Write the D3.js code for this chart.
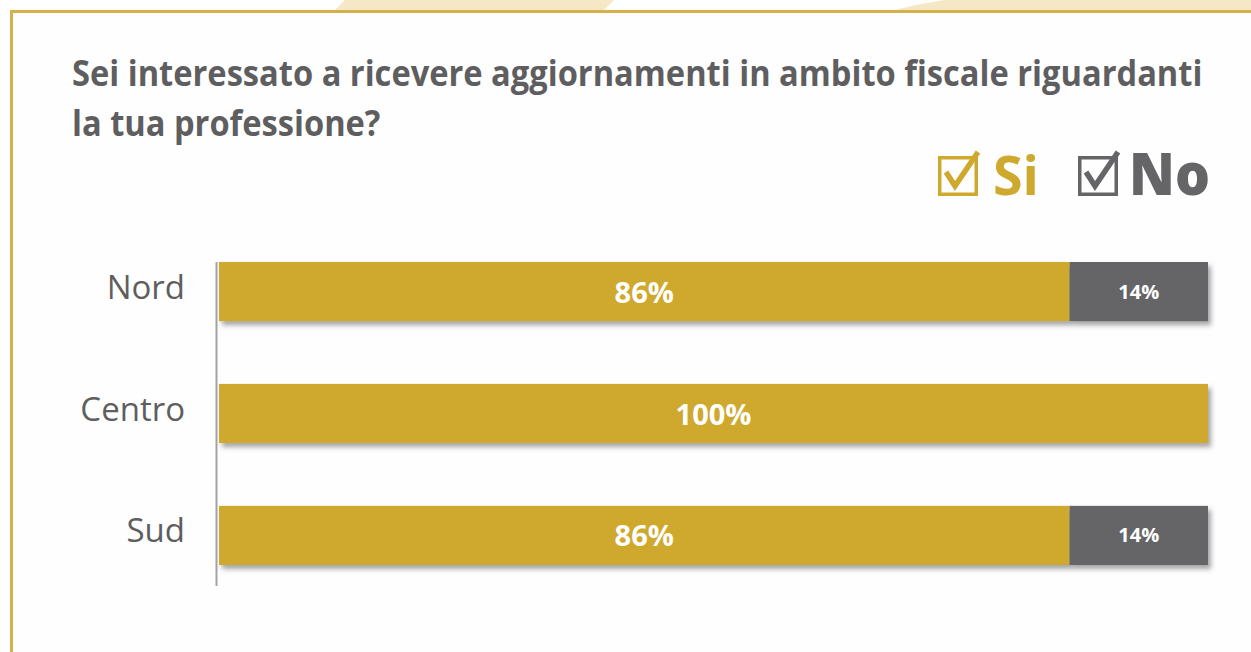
<!DOCTYPE html>
<html>
<head>
<meta charset="utf-8">
<script src="https://cdn.jsdelivr.net/npm/d3@7"></script>
<style>
  html, body { margin: 0; padding: 0; background: #ffffff; }
  svg { display: block; }
</style>
</head>
<body>
<svg id="chart" width="1251" height="652"></svg>
<script>
// Survey answers by area (percent)
const categories = ["Nord", "Centro", "Sud"];
const siValues = [86, 100, 86];
const noValues = [14, 0, 14];
const seriesNames = ["Si", "No"];
const titleLines = [
  "Sei interessato a ricevere aggiornamenti in ambito fiscale riguardanti",
  "la tua professione?"
];

const W = 1251, H = 652;
const gold = "#cfa92d";
const grey = "#656567";
const textGrey = "#5e5e60";

const svg = d3.select("#chart");

// filter for the soft shadow under each bar
const defs = svg.append("defs");
const f = defs.append("filter").attr("id", "barShadow")
  .attr("x", "-5%").attr("y", "-30%").attr("width", "110%").attr("height", "170%");
f.append("feDropShadow").attr("dx", 3).attr("dy", 4).attr("stdDeviation", 2.5)
  .attr("flood-color", "#4a4a4a").attr("flood-opacity", 0.5);

// decorative cream shapes above the frame
svg.append("path")
  .attr("d", "M345,0 L614,0 L602,12 L333,12 Z")
  .attr("fill", "#f6e7c7");
svg.append("path")
  .attr("d", "M945,0 Q915,4 888,12 L1251,12 L1251,0 Z")
  .attr("fill", "#f6e7c7");

// frame
svg.append("rect")
  .attr("x", 0).attr("y", 12).attr("width", W).attr("height", H)
  .attr("fill", "#fefefe");
svg.append("path")
  .attr("d", `M11.5,${H} L11.5,11.5 L${W},11.5`)
  .attr("fill", "none").attr("stroke", "#d5b14a").attr("stroke-width", 3);

// title, condensed horizontally so the first line spans 72..1203
const title = svg.append("g");
const t1 = title.append("text")
  .attr("font-family", "Open Sans").attr("font-weight", 700)
  .attr("font-size", 35).attr("fill", textGrey)
  .text(titleLines[0]);
const ratio = 1131 / t1.node().getComputedTextLength();
t1.attr("transform", `translate(72,86) scale(${ratio},1)`);
title.append("text")
  .attr("font-family", "Open Sans").attr("font-weight", 700)
  .attr("font-size", 35).attr("fill", textGrey)
  .attr("transform", `translate(72,136) scale(${ratio},1)`)
  .text(titleLines[1]);

// legend with check boxes
const legendItems = [
  { name: seriesNames[0], color: gold, box: 938, tx: 993, weight: 700, size: 54, w: 46 },
  { name: seriesNames[1], color: grey, box: 1078, tx: 1129, weight: 800, size: 58, w: 81 }
];
const legend = svg.append("g");
legendItems.forEach(d => {
  const g = legend.append("g");
  g.append("rect")
    .attr("x", d.box + 1.75).attr("y", 157.75)
    .attr("width", 36.5).attr("height", 36.5)
    .attr("fill", "none").attr("stroke", d.color).attr("stroke-width", 3.5);
  g.append("path")
    .attr("d", `M${d.box + 8},${172} L${d.box + 17},${186} L${d.box + 40},${152}`)
    .attr("fill", "none").attr("stroke", d.color).attr("stroke-width", 5.5)
    .attr("stroke-linejoin", "miter");
  g.append("text")
    .attr("x", d.tx).attr("y", 195)
    .attr("font-family", "Open Sans")
    .attr("font-weight", d.weight).attr("font-size", d.size)
    .attr("fill", d.color)
    .attr("textLength", d.w).attr("lengthAdjust", "spacingAndGlyphs")
    .text(d.name);
});

// scales
const x = d3.scaleLinear().domain([0, 100]).range([219, 1208]);
const y = d3.scaleBand().domain(categories).range([262, 565]).paddingInner(0.515).paddingOuter(0);

// vertical axis line
svg.append("line")
  .attr("x1", 216.5).attr("x2", 216.5)
  .attr("y1", 262).attr("y2", 586)
  .attr("stroke", "#a3a3a5").attr("stroke-width", 2);

// stacked rows
const rows = categories.map((c, i) => ({ cat: c, si: siValues[i], no: noValues[i] }));
const barG = svg.append("g");
rows.forEach(r => {
  const g = barG.append("g").attr("filter", "url(#barShadow)");
  g.append("rect")
    .attr("x", x(0)).attr("y", y(r.cat))
    .attr("width", x(r.si) - x(0)).attr("height", y.bandwidth())
    .attr("fill", gold);
  if (r.no > 0) {
    g.append("rect")
      .attr("x", x(r.si)).attr("y", y(r.cat))
      .attr("width", x(r.si + r.no) - x(r.si)).attr("height", y.bandwidth())
      .attr("fill", grey);
  }
});

// value labels
const labelG = svg.append("g");
rows.forEach(r => {
  const cy = y(r.cat) + y.bandwidth() / 2;
  labelG.append("text")
    .attr("x", (x(0) + x(r.si)) / 2).attr("y", cy + 11)
    .attr("text-anchor", "middle")
    .attr("font-family", "Open Sans").attr("font-weight", 700)
    .attr("font-size", 29).attr("fill", "#ffffff")
    .text(r.si + "%");
  if (r.no > 0) {
    labelG.append("text")
      .attr("x", (x(r.si) + x(r.si + r.no)) / 2).attr("y", cy + 7)
      .attr("text-anchor", "middle")
      .attr("font-family", "Open Sans").attr("font-weight", 700)
      .attr("font-size", 20).attr("fill", "#ffffff")
      .text(r.no + "%");
  }
});

// category labels
svg.append("g").selectAll("text")
  .data(categories)
  .join("text")
  .attr("x", 185)
  .attr("y", d => y(d) + y.bandwidth() / 2 + 7)
  .attr("text-anchor", "end")
  .attr("font-family", "Open Sans").attr("font-weight", 500)
  .attr("font-size", 33).attr("fill", textGrey)
  .text(d => d);
</script>
</body>
</html>
